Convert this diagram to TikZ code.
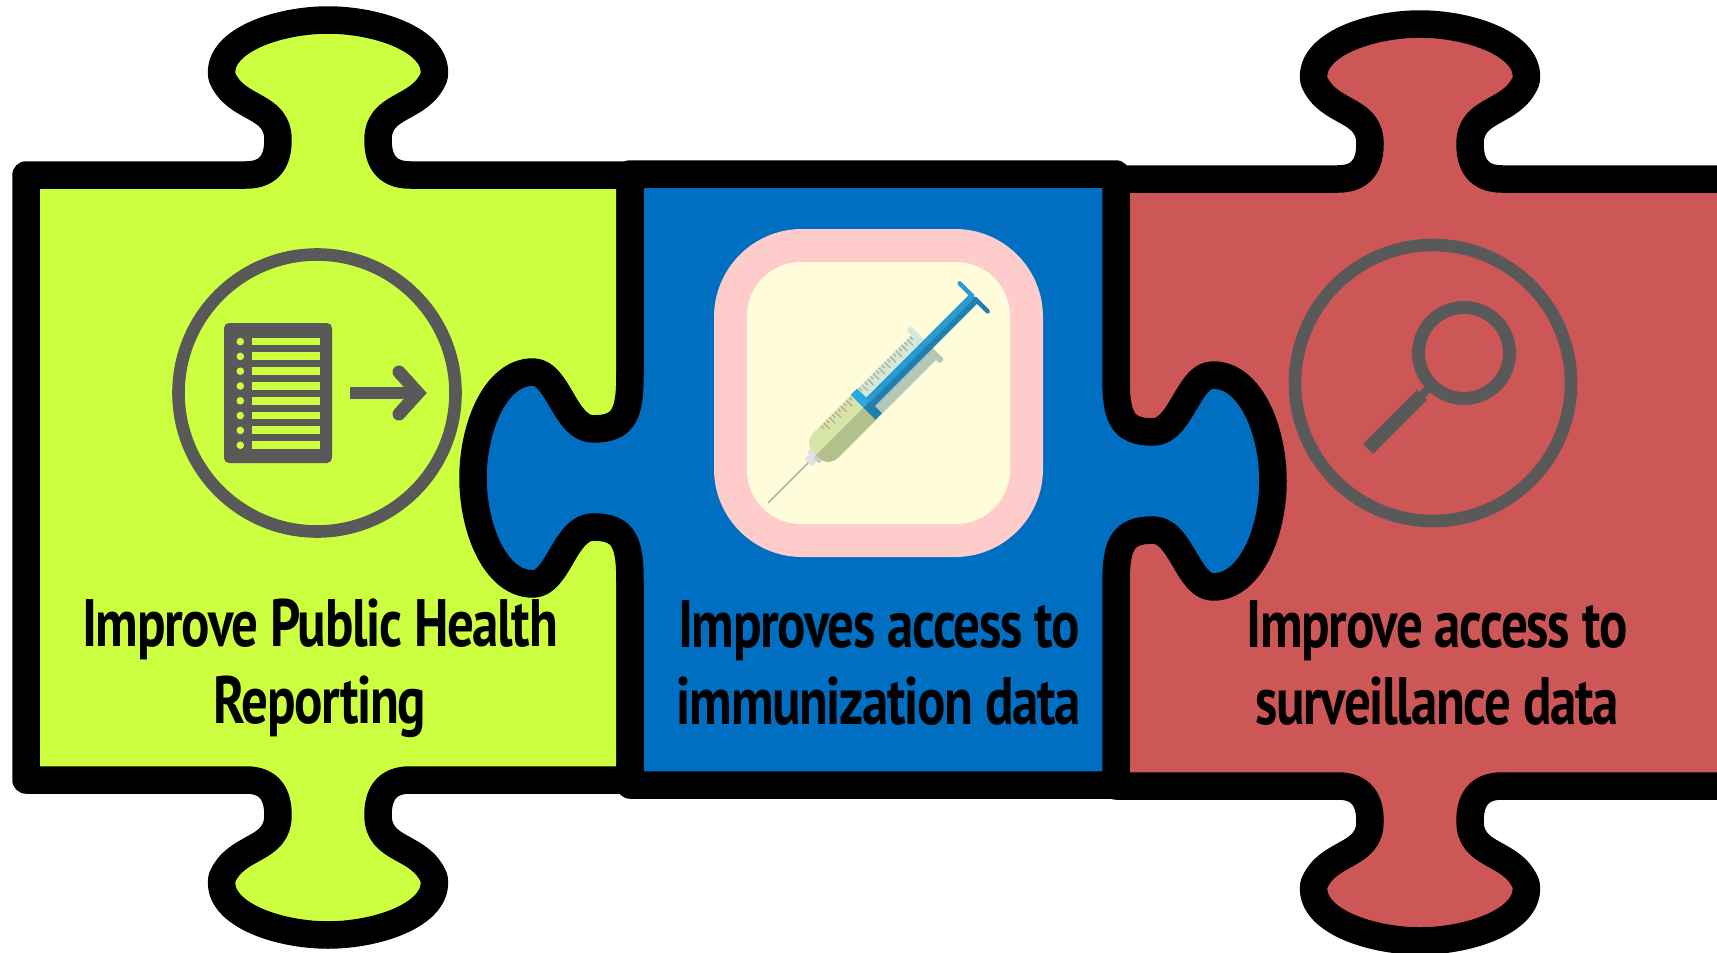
\documentclass[tikz,border=0pt]{standalone}
\usepackage{fontspec}
\newfontfamily\labelfont[FakeStretch=0.79,LetterSpace=-2]{PT Sans Bold}

\begin{document}
\begin{tikzpicture}[x=1pt,y=-1pt,line join=round,
    piece/.style={draw=black,line width=27.5pt},
    icon/.style={draw=icongray,line width=12.6pt},
    labeltext/.style={font=\labelfont\fontsize{67}{77}\selectfont,align=center,text=black,inner sep=0pt}]
  \colorlet{icongray}{black!65}
  \definecolor{healthgreen}{HTML}{CCFF3F}
  \definecolor{accessblue}{HTML}{006FC1}
  \definecolor{surveyred}{HTML}{CD5757}
  \definecolor{framepink}{HTML}{FFCCCC}
  \definecolor{framecream}{HTML}{FFFCD9}
  \definecolor{rodlight}{HTML}{2A9AD0}
  \definecolor{roddark}{HTML}{1F7FAE}
  \definecolor{stopperlight}{HTML}{2AA8E0}
  \definecolor{liquidlight}{HTML}{D7E6A6}
  \definecolor{liquiddark}{HTML}{B3BF8C}
  \definecolor{barrellight}{HTML}{D2E8D8}
  \definecolor{barreldark}{HTML}{B4C6B8}
  \definecolor{scalemark}{HTML}{B9A69A}

  % the tabs: centre or edge, base or middle, direction
  \def\toptab#1#2#3{.. controls ({#1-#3*58},{#2}) and ({#1-#3*50},{#2-#3*15}) .. ({#1-#3*50},{#2-#3*35})
    .. controls ({#1-#3*50},{#2-#3*72}) and ({#1-#3*92},{#2-#3*64}) .. ({#1-#3*106},{#2-#3*98})
    .. controls ({#1-#3*112},{#2-#3*134}) and ({#1-#3*50},{#2-#3*155}) .. ({#1},{#2-#3*155})
    .. controls ({#1+#3*50},{#2-#3*155}) and ({#1+#3*112},{#2-#3*134}) .. ({#1+#3*106},{#2-#3*98})
    .. controls ({#1+#3*92},{#2-#3*64}) and ({#1+#3*50},{#2-#3*72}) .. ({#1+#3*50},{#2-#3*35})
    .. controls ({#1+#3*50},{#2-#3*15}) and ({#1+#3*58},{#2}) .. ({#1+#3*82},{#2})}
  \def\sidetab#1#2#3{.. controls ({#1},{#2-#3*65}) and ({#1+#3*5},{#2-#3*49}) .. ({#1+#3*37},{#2-#3*49})
    .. controls ({#1+#3*65},{#2-#3*49}) and ({#1+#3*72},{#2-#3*106}) .. ({#1+#3*97},{#2-#3*106})
    .. controls ({#1+#3*135},{#2-#3*106}) and ({#1+#3*157},{#2-#3*50}) .. ({#1+#3*157},{#2})
    .. controls ({#1+#3*157},{#2+#3*50}) and ({#1+#3*135},{#2+#3*106}) .. ({#1+#3*97},{#2+#3*106})
    .. controls ({#1+#3*72},{#2+#3*106}) and ({#1+#3*65},{#2+#3*49}) .. ({#1+#3*37},{#2+#3*49})
    .. controls ({#1+#3*5},{#2+#3*49}) and ({#1},{#2+#3*65}) .. ({#1},{#2+#3*105})}

  % set the visible area of the figure
  \useasboundingbox (0,0) rectangle (1717,953);
  \clip (0,0) rectangle (1717,953);

  % draw the two outer pieces first
  \draw [piece,fill=healthgreen] (26,175) -- (246,175) \toptab{328}{175}{1} -- (630,175)
    -- (630,780) -- (410,780) \toptab{328}{780}{-1} -- (26,780) -- cycle;
  \draw [piece,fill=surveyred] (1116,179) -- (1338,179) \toptab{1420}{179}{1} -- (1760,179)
    -- (1760,786) -- (1502,786) \toptab{1420}{786}{-1} -- (1116,786) -- cycle;

  % the middle piece lies over them
  \draw [piece,fill=accessblue] (630,174) -- (1116,174) -- (1116,376) \sidetab{1116}{481}{1}
    -- (1116,785) -- (630,785) -- (630,583) \sidetab{630}{478}{-1} -- cycle;

  % left icon
  \draw [icon] (317,393) circle (138.5);
  \fill [icongray,rounded corners=5] (224,323) rectangle (332,463);
  \foreach \row in {0,...,7} {
    \fill [healthgreen] (252,{337.6+14.8*\row}) rectangle (320,{345.4+14.8*\row});
    \fill [healthgreen] (240.3,{341.6+14.8*\row}) circle (3.8);
  }
  \draw [icon,line width=11.3pt] (350,393) -- (416,393);
  \draw [icon,line width=13pt,line join=miter,line cap=round] (399,372) -- (418,393) -- (399,414);

  % right icon
  \draw [icon] (1433,383) circle (138);
  \draw [icon,line width=13pt] (1464,353) circle (45.5);
  \draw [icon,line width=8pt] (1418,399) -- (1432,385);
  \draw [icon,line width=14pt] (1422,395) -- (1368,449);

  % middle icon
  \fill [framepink,rounded corners=88] (714,229) rectangle (1043,557);
  \fill [framecream,rounded corners=54] (747,262) rectangle (1010,524);

  % the syringe, along its own axis from the needle tip
  \begin{scope}[shift={(768,503)},rotate=45]
    \draw [black!30,line width=1.5pt] (0,0) -- (58,0);
    \fill [black!12] (57,-5) rectangle (64,5);
    \fill [black!20] (64,-8) rectangle (70,8);
    \fill [black!12] (64,-8) rectangle (70,0);
    % liquid
    \fill [liquidlight] (138,-17.5) [rounded corners=13] -- (68,-17.5) -- (68,17.5) [sharp corners] -- (138,17.5) -- cycle;
    \fill [liquiddark] (138,0) -- (68,0) [rounded corners=13] -- (68,17.5) [sharp corners] -- (138,17.5) -- cycle;
    % barrel
    \fill [barrellight] (140,-17.5) rectangle (222,0);
    \fill [barreldark] (140,0) rectangle (222,17.5);
    \fill [barrellight,rounded corners=2] (220,-24) rectangle (226,0);
    \fill [barreldark,rounded corners=2] (220,0) rectangle (226,23);
    % scale marks
    \foreach \mark in {0,...,10}
      \draw [scalemark,line width=1.2pt] ({92+4*\mark},-17) -- ({92+4*\mark},{-9-4*mod(\mark+1,2)});
    \foreach \mark in {0,...,18}
      \draw [scalemark,line width=1.2pt] ({146+4*\mark},-17) -- ({146+4*\mark},{-9-4*mod(\mark+1,2)});
    % plunger
    \fill [rodlight] (142,-5) rectangle (290,1);
    \fill [roddark] (142,1) rectangle (290,7);
    \fill [stopperlight] (135,-18) rectangle (144,0);
    \fill [roddark] (135,0) rectangle (144,17);
    \fill [rodlight,rounded corners=1.5] (288.5,-22) rectangle (293,0);
    \fill [roddark,rounded corners=1.5] (288.5,0) rectangle (293,22);
  \end{scope}

  % the labels
  \node [labeltext] (healthlabel) at (320,668) {Improve Public Health\\Reporting};
  \node [labeltext] (accesslabel) at (879,663) {Improves access to\\immunization data};
  \node [labeltext] (surveylabel) at (1437,663) {Improve access to\\surveillance data};
\end{tikzpicture}
\end{document}
